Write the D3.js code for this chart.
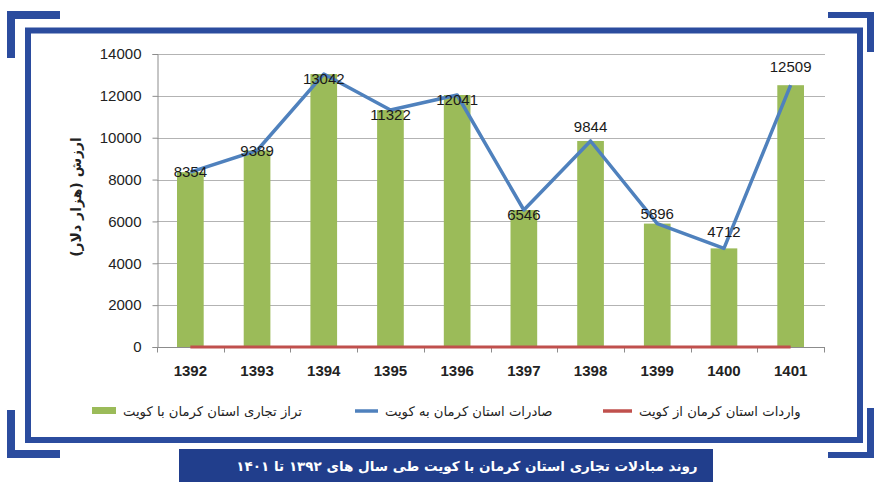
<!DOCTYPE html>
<html>
<head>
<meta charset="utf-8">
<script src="https://cdn.jsdelivr.net/npm/d3@7/dist/d3.min.js"></script>
<style>
  html, body { margin: 0; padding: 0; background: #ffffff; }
  svg { display: block; }
</style>
</head>
<body>
<svg id="chart" width="874" height="482"></svg>
<script>
// Trade between Kerman province and Kuwait, 1392–1401 (thousand USD)
const years = ["1392", "1393", "1394", "1395", "1396", "1397", "1398", "1399", "1400", "1401"];
const tradeBalance = [8354, 9389, 13042, 11322, 12041, 6546, 9844, 5896, 4712, 12509];
const exportsToKuwait = [8354, 9389, 13042, 11322, 12041, 6546, 9844, 5896, 4712, 12509];
const importsFromKuwait = [0, 0, 0, 0, 0, 0, 0, 0, 0, 0];
const yTicks = [0, 2000, 4000, 6000, 8000, 10000, 12000, 14000];

const seriesNames = {
  balance: "تراز تجاری  استان کرمان با کویت",
  exports: "صادرات استان کرمان به کویت",
  imports: "واردات  استان کرمان از کویت"
};
const yTitle = "ارزش (هزار دلار)";
const bannerTitle = "روند مبادلات تجاری استان کرمان با کویت طی سال های ۱۳۹۲ تا ۱۴۰۱";

// vertical nudge of each value label relative to its point (layout only)
const labelNudge = [0, 0, 5, 5, 5, 5, -14, -10, -17, -18];

const colors = {
  bar: "#9BBB59",
  exports: "#4F81BD",
  imports: "#C0504D",
  frame: "#2B4C9E",
  banner: "#213E8C",
  grid: "#B3B3B3",
  axis: "#8C8C8C"
};

const svg = d3.select("#chart");
const plot = { left: 157, right: 824, top: 54, bottom: 347 };

const x = d3.scaleBand().domain(years).range([plot.left, plot.right]).paddingInner(0.6).paddingOuter(0.3);
const xc = d => x(d) + x.bandwidth() / 2;
const y = d3.scaleLinear().domain([0, 14000]).range([plot.bottom, plot.top]);

// decorative frame
svg.append("rect")
  .attr("x", 28).attr("y", 30.5).attr("width", 832).attr("height", 409.5)
  .attr("fill", "none").attr("stroke", colors.frame).attr("stroke-width", 6);

const brackets = [
  "M7,11 H60 V19 H15 V58 H7 Z",
  "M828,12 H874 V52 H867 V18 H828 Z",
  "M7,410 H15 V450 H60 V458 H7 Z",
  "M867,408 H874 V458 H828 V452 H867 Z"
];
svg.selectAll("path.bracket").data(brackets).join("path")
  .attr("class", "bracket").attr("d", d => d).attr("fill", colors.frame);

// gridlines
svg.append("g").selectAll("line").data(yTicks.filter(t => t > 0)).join("line")
  .attr("x1", plot.left).attr("x2", plot.right + 1)
  .attr("y1", d => Math.round(y(d)) + 0.5).attr("y2", d => Math.round(y(d)) + 0.5)
  .attr("stroke", colors.grid).attr("stroke-width", 1);

// y axis
const yAxis = svg.append("g")
  .attr("transform", `translate(${plot.left + 0.5},0)`)
  .call(d3.axisLeft(y).tickValues(yTicks).tickSize(5).tickPadding(11).tickFormat(d3.format("d")));
yAxis.select(".domain").attr("stroke", colors.axis);
yAxis.selectAll(".tick line").attr("stroke", colors.axis);
yAxis.selectAll(".tick text")
  .attr("font-family", "Liberation Sans, Arial, sans-serif")
  .attr("font-size", 15).attr("fill", "#222");

// x axis with ticks at band boundaries
const xAxisG = svg.append("g").attr("transform", `translate(0,${plot.bottom + 0.5})`);
xAxisG.append("line")
  .attr("x1", plot.left).attr("x2", plot.right + 1)
  .attr("stroke", colors.axis);
const boundaries = d3.range(years.length + 1).map(i => plot.left + i * (plot.right - plot.left) / years.length);
xAxisG.selectAll("line.tk").data(boundaries).join("line")
  .attr("class", "tk")
  .attr("x1", d => Math.round(d) + 0.5).attr("x2", d => Math.round(d) + 0.5)
  .attr("y1", 0).attr("y2", 5).attr("stroke", colors.axis);
xAxisG.selectAll("text").data(years).join("text")
  .attr("x", d => xc(d)).attr("y", 28)
  .attr("text-anchor", "middle")
  .attr("font-family", "Liberation Sans, Arial, sans-serif")
  .attr("font-weight", "bold").attr("font-size", 15).attr("fill", "#222")
  .text(d => d);

// bars: trade balance
svg.append("g").selectAll("rect").data(tradeBalance).join("rect")
  .attr("x", (d, i) => x(years[i]))
  .attr("y", d => y(d))
  .attr("width", x.bandwidth())
  .attr("height", d => y(0) - y(d))
  .attr("fill", colors.bar);

// imports line
const line = d3.line().x((d, i) => xc(years[i])).y(d => y(d));
svg.append("path").datum(importsFromKuwait)
  .attr("d", line).attr("fill", "none")
  .attr("stroke", colors.imports).attr("stroke-width", 3);

// exports line
svg.append("path").datum(exportsToKuwait)
  .attr("d", line).attr("fill", "none")
  .attr("stroke", colors.exports).attr("stroke-width", 3.5)
  .attr("stroke-linejoin", "round");

// value labels
svg.append("g").selectAll("text").data(exportsToKuwait).join("text")
  .attr("x", (d, i) => xc(years[i]))
  .attr("y", (d, i) => y(d) + labelNudge[i])
  .attr("dy", "0.35em")
  .attr("text-anchor", "middle")
  .attr("font-family", "Liberation Sans, Arial, sans-serif")
  .attr("font-size", 15).attr("fill", "#1a1a1a")
  .text(d => d);

// y axis title
svg.append("text")
  .attr("transform", "translate(81,197) rotate(-90)")
  .attr("text-anchor", "middle")
  .attr("direction", "rtl")
  .attr("font-family", "DejaVu Sans, sans-serif")
  .attr("font-weight", "bold").attr("font-size", 14).attr("fill", "#222")
  .text(yTitle);

// legend: swatch on the left, right-to-left label just after it
const legendItems = [
  { key: "balance", swatch: [92, 116], type: "bar" },
  { key: "exports", swatch: [355, 378], type: "line" },
  { key: "imports", swatch: [603, 632], type: "line" }
];
const lg = svg.append("g");
legendItems.forEach(it => {
  const col = it.key === "balance" ? colors.bar : it.key === "exports" ? colors.exports : colors.imports;
  if (it.type === "bar") {
    lg.append("rect").attr("x", it.swatch[0]).attr("y", 407)
      .attr("width", it.swatch[1] - it.swatch[0]).attr("height", 7).attr("fill", col);
  } else {
    lg.append("line").attr("x1", it.swatch[0]).attr("x2", it.swatch[1])
      .attr("y1", 411).attr("y2", 411).attr("stroke", col).attr("stroke-width", 3.5);
  }
  lg.append("text")
    .attr("x", it.swatch[1] + 7).attr("y", 416)
    .attr("text-anchor", "end").attr("direction", "rtl")
    .attr("font-family", "DejaVu Sans, sans-serif")
    .attr("font-size", 13.2).attr("fill", "#222")
    .text(seriesNames[it.key]);
});

// title banner
svg.append("rect").attr("x", 179).attr("y", 449).attr("width", 534).attr("height", 33)
  .attr("fill", colors.banner);
svg.append("text")
  .attr("x", 467).attr("y", 471)
  .attr("text-anchor", "middle").attr("direction", "rtl")
  .attr("font-family", "DejaVu Sans, sans-serif")
  .attr("font-weight", "bold").attr("font-size", 13.5).attr("fill", "#ffffff")
  .text(bannerTitle);
</script>
</body>
</html>
